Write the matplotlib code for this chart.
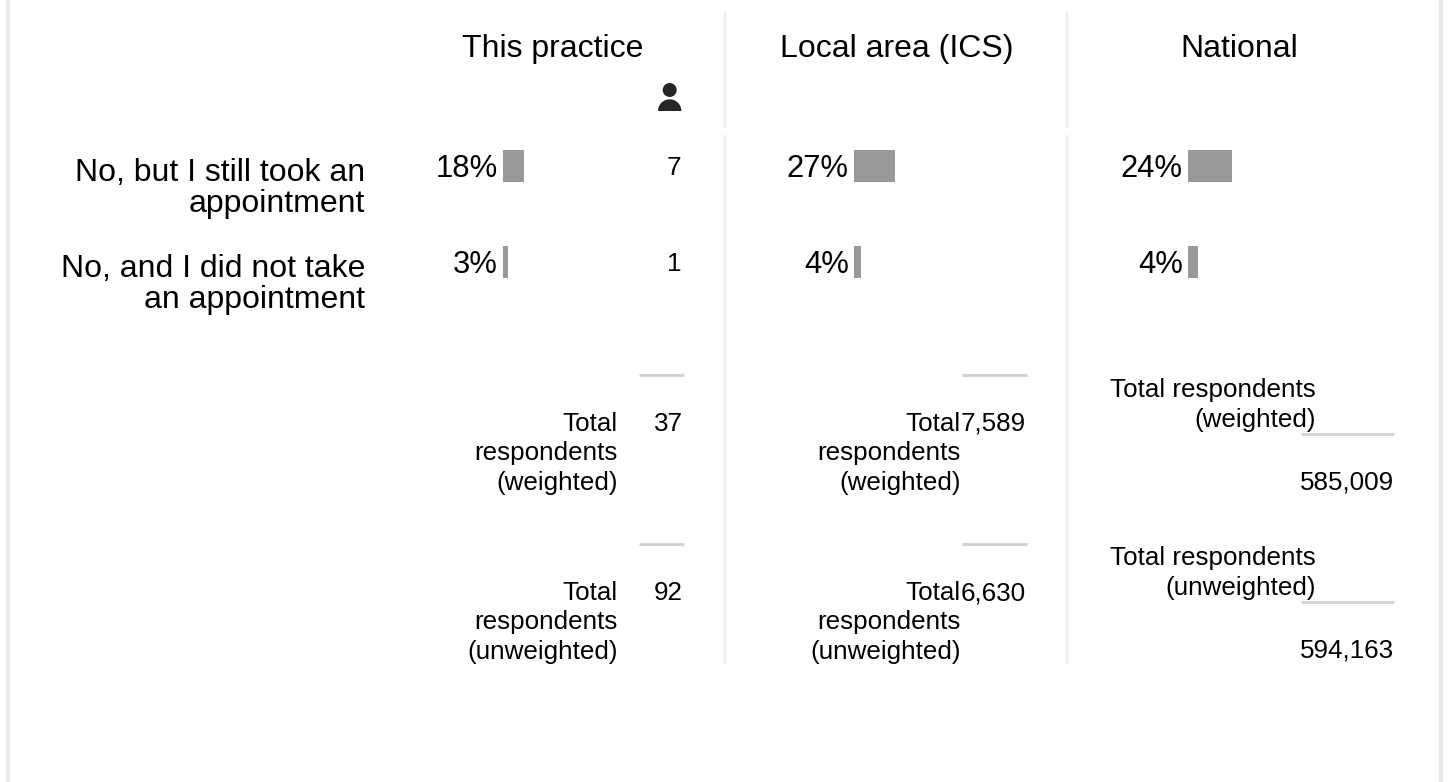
import matplotlib
matplotlib.use("Agg")
import matplotlib.pyplot as plt
from matplotlib.patches import Circle, Wedge, Rectangle

plt.rcParams["font.family"] = ["Liberation Sans", "DejaVu Sans"]

# ---------- Data ----------
answers = ["No, but I still took an\nappointment", "No, and I did not take\nan appointment"]
panels = ["This practice", "Local area (ICS)", "National"]
pct_labels = [["18%", "3%"], ["27%", "4%"], ["24%", "4%"]]
# bar lengths as they are drawn (the small bars are wider than their rounded label)
practice_bars = [18, 4.3]
local_bars = [27, 4.6]
national_bars = [24, 5.5]
practice_counts = ["7", "1"]
total_labels = ["Total\nrespondents\n(weighted)", "Total\nrespondents\n(unweighted)"]
national_total_labels = ["Total respondents\n(weighted)", "Total respondents\n(unweighted)"]
practice_totals = ["37", "92"]
local_totals = ["7,589", "6,630"]
national_totals = ["585,009", "594,163"]

# ---------- Layout (pixels) ----------
W, H = 1451, 782
TEXT = "#000000"
BAR = "#999999"
RULE = "#d3d3d3"
DIVIDER = "#eeeeee"
BORDER = "#e8e8e8"
BIG = 23
PCT = 22.3
SMALL = 18.7

fig = plt.figure(figsize=(W / 100, H / 100), dpi=100)
ax = fig.add_axes([0, 0, 1, 1])
ax.set_xlim(0, W)
ax.set_ylim(H, 0)
ax.axis("off")


def bar_panel(x0, px_per_pct, values):
    """One axes per panel, each panel has its own x scale."""
    top, bottom = 118, 310  # two rows, 96 px each
    width = 100 * px_per_pct
    a = fig.add_axes([x0 / W, 1 - bottom / H, width / W, (bottom - top) / H])
    a.barh(range(len(values)), values, height=32 / 96, color=BAR)
    a.set_xlim(0, 100)
    a.set_ylim(1.5, -0.5)
    a.axis("off")


def vline(x, y0, y1):
    ax.plot([x, x], [y0, y1], color=DIVIDER, lw=1.6, solid_capstyle="butt")


def hrule(x0, x1, y):
    ax.plot([x0, x1], [y, y], color=RULE, lw=2.2, solid_capstyle="butt")


def label(x, y, s, size, ha="right", spacing=1.0):
    ax.text(x, y, s, fontsize=size, ha=ha, va="baseline", color=TEXT, linespacing=spacing)


# outer frame
ax.add_patch(Rectangle((6, 0), 4, H, color=BORDER, lw=0))
ax.add_patch(Rectangle((1439, 0), 4, H, color=BORDER, lw=0))

# column dividers
for x in [724.5, 1067]:
    vline(x, 10, 128)
    vline(x, 135, 664)

# headers
for cx, name in zip([552.5, 896.5, 1239], panels):
    label(cx, 57, name, BIG, ha="center")

# person icon above the counts
ax.add_patch(Circle((669.7, 90), 7, color="#262626", lw=0))
ax.add_patch(Wedge((669.7, 111), 11.7, 180, 360, color="#262626", lw=0))

# answer rows
label(365.5, 211.6, answers[0], BIG, spacing=1.015)
label(365.5, 307.6, answers[1], BIG, spacing=1.015)

# bars
bar_panel(503, 1.17, practice_bars)
bar_panel(854, 1.52, local_bars)
bar_panel(1188, 1.83, national_bars)

for x, labs in zip([498, 849, 1183], pct_labels):
    label(x, 177, labs[0], PCT)
    label(x, 273, labs[1], PCT)

label(681.5, 175, practice_counts[0], SMALL)
label(681.5, 271, practice_counts[1], SMALL)

# totals: practice and local
for i, y_rule in enumerate([375, 544]):
    hrule(639, 684, y_rule)
    hrule(962, 1027, y_rule)
    label(617.5, y_rule + 115, total_labels[i], SMALL, spacing=1.29)
    label(961, y_rule + 115, total_labels[i], SMALL, spacing=1.29)
    label(683, y_rule + 56, practice_totals[i], SMALL)
    label(1026, y_rule + 56, local_totals[i], SMALL)

# totals: national
for i, y_rule in enumerate([434, 602]):
    hrule(1301, 1394, y_rule)
    label(1316, y_rule - 7, national_total_labels[i], SMALL, spacing=1.29)
    label(1394, y_rule + 55.4, national_totals[i], SMALL)

fig.savefig("out.png", dpi=100)
